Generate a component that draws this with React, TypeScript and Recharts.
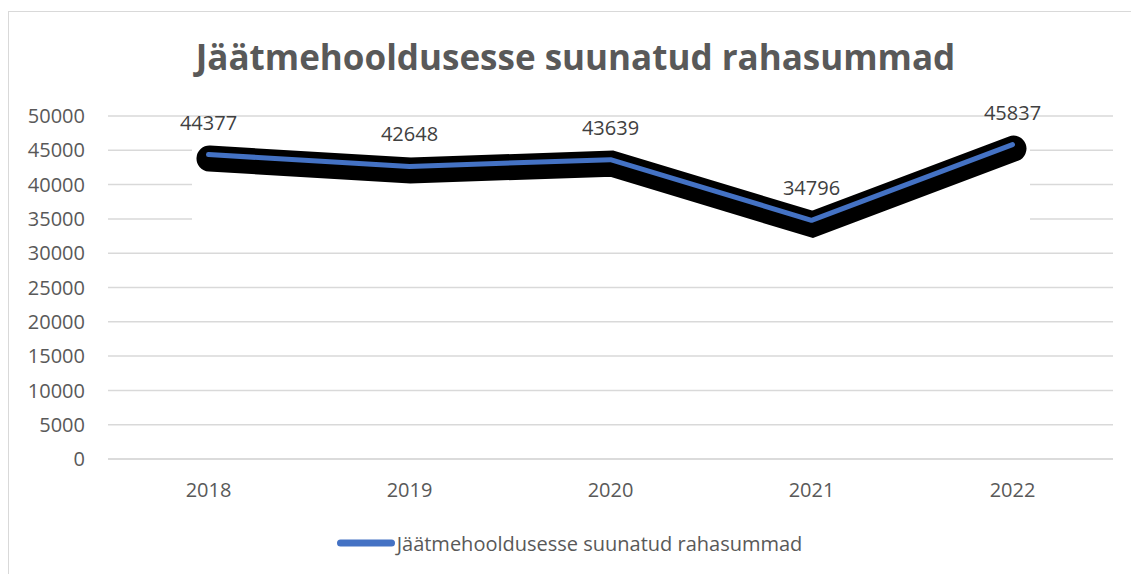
import React from 'react';
import {
  LineChart,
  Line,
  XAxis,
  YAxis,
  CartesianGrid,
  LabelList,
  Legend,
  ReferenceArea,
} from 'recharts';

const years = ['2018', '2019', '2020', '2021', '2022'];
const amounts = [44377, 42648, 43639, 34796, 45837];
const yTicks = [0, 5000, 10000, 15000, 20000, 25000, 30000, 35000, 40000, 45000, 50000];
const seriesName = 'Jäätmehooldusesse suunatud rahasummad';
const chartTitle = 'Jäätmehooldusesse suunatud rahasummad';

const data = years.map((y, i) => ({ year: y, value: amounts[i] }));

const FONT = '"Open Sans", sans-serif';
const GREY = '#595959';
const BLUE = '#4472C4';

const maskLow = Math.min(...amounts) - 2500;
const maskHigh = Math.max(...amounts) + 2000;

const MaskShape = (props: any) => {
  const { x, y, width, height } = props;
  return <rect x={x - 16.5} y={y} width={width + 34} height={height} fill="#ffffff" stroke="none" />;
};

const LegendContent = () => (
  <div style={{ display: 'flex', alignItems: 'center', justifyContent: 'center', height: 36 }}>
    <svg width={60} height={12} style={{ display: 'block' }}>
      <line x1={3.5} y1={6} x2={54.5} y2={6} stroke={BLUE} strokeWidth={7} strokeLinecap="round" />
    </svg>
    <span style={{ fontFamily: FONT, fontSize: 20, color: GREY }}>{seriesName}</span>
  </div>
);

export default function App() {
  return (
    <div style={{ position: 'relative', width: 1131, height: 574, overflow: 'hidden', background: '#fff' }}>
      <style>{`
        body { margin: 0; overflow: hidden; }
        .shadowLine .recharts-curve { transform: translate(1px, 4px); }
      `}</style>
      <div
        style={{
          position: 'absolute',
          left: 8,
          top: 11,
          width: 1200,
          height: 700,
          border: '1.5px solid #d9d9d9',
          boxSizing: 'border-box',
        }}
      />
      <div
        style={{
          position: 'absolute',
          left: 10,
          top: 37,
          width: 1131,
          textAlign: 'center',
          fontFamily: FONT,
          fontWeight: 700,
          fontSize: 35,
          lineHeight: '40px',
          color: GREY,
        }}
      >
        {chartTitle}
      </div>
      <div style={{ position: 'absolute', left: 0, top: 0 }}>
        <LineChart
          width={1131}
          height={574}
          data={data}
          margin={{ top: 116, right: 18, left: 8, bottom: 65 }}
        >
          <CartesianGrid vertical={false} stroke="#d9d9d9" strokeWidth={1.5} />
          <XAxis
            dataKey="year"
            height={50}
            padding={{ left: 100.5, right: 100.5 }}
            axisLine={{ stroke: '#d9d9d9', strokeWidth: 1.5 }}
            tickLine={false}
            tickSize={6}
            tickMargin={18}
            tick={{ fill: GREY, fontSize: 20, fontFamily: FONT }}
          />
          <YAxis
            width={100}
            domain={[0, 50000]}
            ticks={yTicks}
            axisLine={false}
            tickLine={false}
            tickSize={6}
            tickMargin={17}
            interval={0}
            tick={{ fill: GREY, fontSize: 20, fontFamily: FONT }}
          />
          <ReferenceArea
            x1={years[0]}
            x2={years[years.length - 1]}
            y1={maskLow}
            y2={maskHigh}
            shape={MaskShape}
            ifOverflow="visible"
          />
          <Line
            className="shadowLine"
            dataKey="value"
            stroke="#000000"
            strokeWidth={26}
            strokeLinecap="round"
            strokeLinejoin="miter"
            dot={false}
            activeDot={false}
            legendType="none"
            isAnimationActive={false}
          />
          <Line
            dataKey="value"
            name={seriesName}
            stroke={BLUE}
            strokeWidth={5}
            strokeLinecap="round"
            strokeLinejoin="round"
            dot={false}
            activeDot={false}
            isAnimationActive={false}
          >
            <LabelList
              dataKey="value"
              position="top"
              offset={25}
              fill="#404040"
              fontSize={20}
              fontFamily={FONT}
            />
          </Line>
          <Legend
            layout="horizontal"
            verticalAlign="middle"
            align="center"
            content={LegendContent}
            wrapperStyle={{ top: 525, left: 4, width: 1131, height: 36 }}
          />
        </LineChart>
      </div>
    </div>
  );
}
